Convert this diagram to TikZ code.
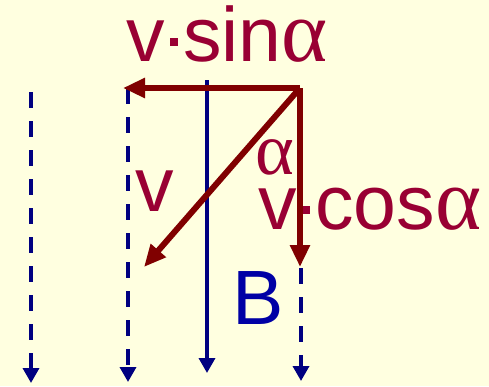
\documentclass[tikz,border=0pt]{standalone}
\usepackage{fontspec}
\setmainfont{Liberation Sans}
\newfontfamily\greekfont{Liberation Serif}
\usetikzlibrary{arrows.meta}
\definecolor{paper}{RGB}{255,255,224}
\definecolor{wine}{RGB}{153,0,51}
\definecolor{maroon}{RGB}{128,0,0}
\definecolor{navy}{RGB}{0,0,128}
\definecolor{royal}{RGB}{0,0,165}
\tikzset{
  field/.style={draw=navy,line width=3.5pt,-{Triangle[length=15pt,width=16pt]}},
  field dashed/.style={field,dash pattern=on 16pt off 13pt},
  speed/.style={draw=maroon,line width=6pt,-{Triangle[length=22pt,width=19pt]}},
  lbl/.style={text=wine,font=\fontsize{77}{80}\selectfont,inner sep=0pt},
}
\newcommand{\alf}{\smash{\greekfont\fontsize{88}{90}\selectfont α}}
\newcommand{\sqdot}{\hspace{0.07em}\rule[0.2em]{0.1em}{0.1em}\hspace{0.07em}}

\begin{document}
\begin{tikzpicture}[x=1pt,y=-1pt]
  \fill[paper] (0,0) rectangle (489,386);
  \useasboundingbox (0,0) rectangle (489,386);
  % field lines
  \coordinate (f1t) at (31,92);   \coordinate (f1b) at (31,383);
  \coordinate (f2t) at (128,88);  \coordinate (f2b) at (128,382);
  \coordinate (f3t) at (207,80);  \coordinate (f3b) at (207,373);
  \coordinate (f4t) at (301,268); \coordinate (f4b) at (301,381);
  \draw[field dashed] (f1t) -- (f1b);
  \draw[field dashed] (f2t) -- (f2b);
  \draw[field] (f3t) -- (f3b);
  \draw[field dashed] (f4t) -- (f4b);
  % labels
  \node[lbl,anchor=base west] (vsin) at (126,61) {v\sqdot sin\alf};
  \node[lbl,anchor=base west] (v) at (135,211) {v};
  \node[lbl,anchor=base west,text height=0.42em,text depth=0pt] (al) at (255,174) {{\greekfont\fontsize{74}{80}\selectfont α}};
  \node[lbl,anchor=base west,text height=0.52em] (vcos) at (258,229) {v\sqdot cos\alf};
  \node[lbl,anchor=base west,text=royal] (B) at (232,324) {B};
  % velocity and its parts
  \coordinate (o) at (300,88);
  \coordinate (sn) at (123,88);
  \coordinate (vv) at (144,267);
  \coordinate (cs) at (300,267);
  \draw[speed] (o) -- (sn);
  \draw[speed] (o) -- (vv);
  \draw[speed] (o) -- (cs);
\end{tikzpicture}
\end{document}
